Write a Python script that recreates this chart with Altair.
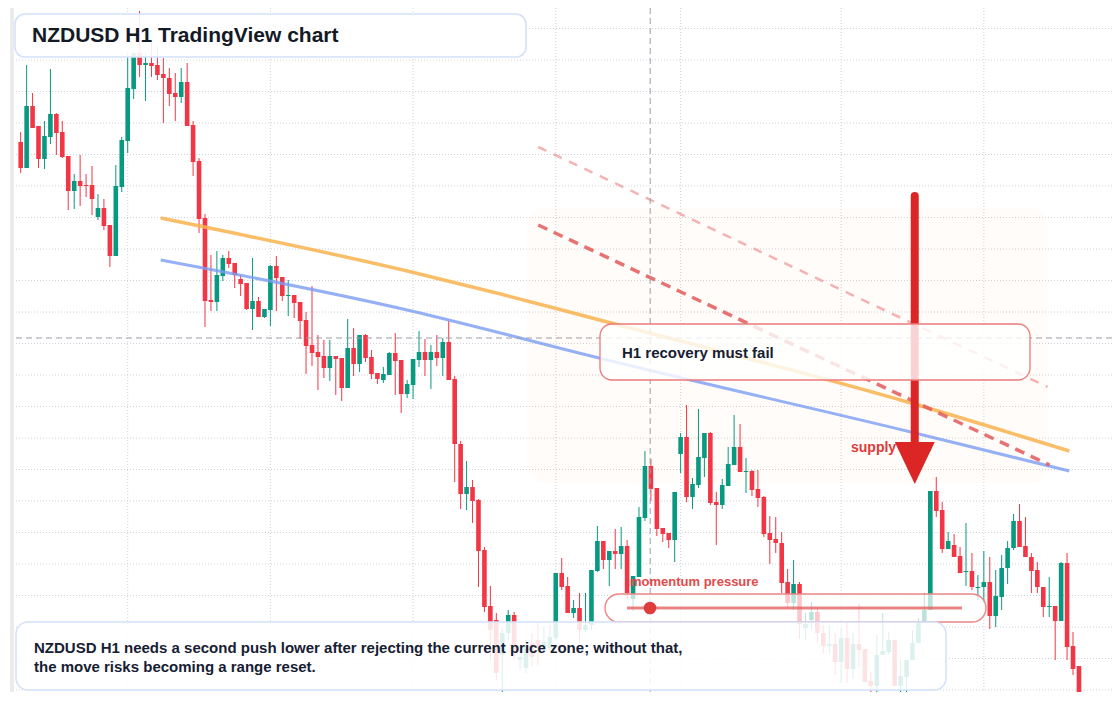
import altair as alt
import pandas as pd

FONT = "Liberation Sans"
GREEN = "#089981"
RED = "#f23645"

# ---- NZDUSD H1 candles, prices in points (1 point = 0.00001) ----
open_pts = [59716,59664,59788,59748,59682,59726,59772,59736,59688,59618,
            59638,59630,59630,59566,59584,59550,59488,59626,59718,59822,
            59894,59870,59874,59870,59852,59844,59814,59806,59836,59750,
            59678,59564,59400,59396,59448,59484,59474,59442,59434,59382,
            59398,59366,59380,59468,59446,59408,59410,59396,59360,59310,
            59296,59288,59264,59288,59284,59224,59304,59272,59330,59286,
            59254,59240,59250,59294,59280,59212,59230,59280,59296,59280,
            59296,59284,59316,59242,59112,59012,59026,59000,58900,58788,
            58760,58690,58734,58770,58680,58664,58714,58720,58704,58704,
            58724,58854,58828,58774,58784,58740,58750,58858,58918,58880,
            58898,58892,58908,58802,58846,58964,59068,59024,58944,58934,
            58920,59092,59126,59006,59030,59084,59134,58996,58990,59028,
            59070,59106,59056,59058,59022,59006,58934,58922,58914,58836,
            58794,58832,58744,58760,58776,58734,58708,58712,58676,58724,
            58662,58712,58702,58638,58628,58690,58696,58720,58628,58646,
            58680,58714,58756,58780,59018,58980,58902,58910,58888,58856,
            58858,58824,58826,58836,58768,58806,58864,58904,58958,58908,
            58886,58860,58826,58786,58788,58758,58874,58708,58668]
high_pts = [59736,59870,59814,59748,59758,59862,59774,59758,59688,59652,
            59690,59652,59668,59612,59602,59550,59670,59726,59894,59894,
            59978,59894,59914,59906,59884,59864,59854,59864,59874,59758,
            59684,59572,59490,59498,59490,59498,59474,59450,59434,59484,
            59406,59382,59470,59488,59446,59440,59410,59396,59376,59428,
            59330,59320,59320,59288,59284,59362,59344,59330,59332,59300,
            59254,59266,59296,59334,59280,59240,59282,59338,59322,59310,
            59330,59324,59358,59248,59118,59078,59040,59002,58906,58828,
            58774,58744,58780,58776,58700,58720,58734,58754,58746,58750,
            58854,58884,58846,58800,58814,58814,58860,58948,58918,58898,
            58942,58946,58920,58848,58986,59098,59082,59024,58944,58934,
            59016,59134,59190,59044,59182,59134,59136,59016,59042,59106,
            59170,59152,59084,59060,59060,59008,58968,58966,58936,58862,
            58880,58836,58774,58796,58784,58750,58750,58734,58744,58754,
            58734,58792,58702,58656,58730,58774,58736,58720,58680,58680,
            58740,58764,58814,59018,59046,58996,58936,58932,58906,58954,
            58894,58850,58898,58886,58860,58890,58918,58972,58992,58966,
            58894,58876,58826,58846,58788,58876,58894,58736,58668]
low_pts = [59654,59664,59744,59664,59662,59712,59690,59684,59580,59582,
           59588,59606,59570,59560,59540,59466,59488,59616,59694,59802,
           59846,59798,59846,59840,59754,59788,59758,59794,59748,59648,
           59534,59346,59378,59378,59438,59464,59424,59408,59380,59340,
           59366,59364,59348,59378,59398,59368,59364,59322,59252,59268,
           59220,59244,59238,59210,59198,59224,59248,59256,59276,59242,
           59232,59234,59250,59210,59174,59204,59202,59266,59248,59222,
           59268,59248,59240,59036,58982,58980,58954,58826,58776,58680,
           58640,58576,58720,58680,58660,58654,58666,58670,58696,58700,
           58720,58820,58774,58764,58714,58736,58740,58856,58862,58828,
           58862,58862,58802,58778,58846,58958,58998,58928,58916,58904,
           58876,59054,58996,58982,59024,59046,58990,58910,58982,59028,
           59070,59056,59014,59008,58986,58926,58872,58894,58814,58782,
           58780,58722,58720,58740,58714,58694,58694,58650,58634,58634,
           58642,58666,58636,58594,58606,58690,58690,58628,58610,58610,
           58680,58714,58756,58780,58966,58894,58902,58886,58854,58828,
           58820,58800,58794,58742,58746,58780,58832,58900,58906,58886,
           58814,58814,58766,58766,58680,58758,58680,58650,58560]
close_pts = [59664,59788,59744,59682,59728,59772,59734,59686,59618,59638,
             59628,59628,59602,59584,59548,59488,59628,59720,59824,59894,
             59870,59874,59868,59850,59844,59812,59806,59836,59748,59676,
             59562,59398,59396,59450,59484,59472,59450,59432,59382,59398,
             59366,59382,59468,59444,59408,59410,59394,59358,59308,59294,
             59286,59264,59288,59282,59224,59304,59272,59330,59284,59252,
             59242,59252,59294,59278,59212,59232,59282,59296,59280,59296,
             59284,59316,59240,59112,59012,59026,58998,58898,58786,58740,
             58654,58734,58770,58700,58686,58710,58686,58706,58716,58726,
             58854,58826,58774,58784,58740,58750,58860,58918,58880,58898,
             58892,58908,58814,58848,58966,59068,59022,58942,58932,58920,
             59016,59126,59006,59032,59086,59134,58994,58990,59030,59072,
             59106,59056,59058,59020,59004,58932,58920,58914,58834,58794,
             58832,58752,58752,58776,58734,58708,58712,58676,58724,58662,
             58712,58700,58636,58628,58690,58698,58720,58628,58648,58680,
             58714,58756,58780,59018,58978,58902,58918,58886,58854,58858,
             58826,58826,58836,58768,58808,58864,58904,58958,58906,58886,
             58858,58826,58786,58788,58758,58874,58706,58662,58570]

# grid levels (price) and time grid (bar index)
grid_price = [0.59943, 0.59880, 0.59817, 0.59754, 0.59691, 0.59628, 0.59565,
              0.59502, 0.59439, 0.59376, 0.59313, 0.59250, 0.59187, 0.59124,
              0.59061, 0.58998, 0.58935, 0.58872, 0.58809, 0.58746, 0.58683,
              0.58620]
grid_bar = [18, 42, 66, 90, 111, 138, 162]

# trend lines (bar index, price)
orange_bar = [23.55, 65.72, 80.72, 97.38, 149.72, 176.38]
orange_price = [0.59564, 0.59456, 0.59412, 0.59360, 0.59194, 0.59098]
blue_bar = [23.55, 65.72, 80.72, 91.88, 149.72, 176.38]
blue_price = [0.59480, 0.59378, 0.59334, 0.59300, 0.59136, 0.59058]
dash_thick_bar = [87.05, 173.05]
dash_thick_price = [0.59550, 0.59070]
dash_thin_bar = [87.05, 172.72]
dash_thin_price = [0.59706, 0.59226]

zone_bar = [85.2, 172.7]
zone_price = [0.59584, 0.59034]
cross_bar = 105.88
cross_price = 0.59324
arrow_bar = 150.38
arrow_price = [0.59608, 0.59100]
arrow_head_price = 0.59074

title_text = "NZDUSD H1 TradingView chart"
note_lines = ["NZDUSD H1 needs a second push lower after rejecting the current price zone; without that,",
              "the move risks becoming a range reset."]
box_text = "H1 recovery must fail"
zone_text = "supply zone"
momentum_text = "momentum pressure"

df = pd.DataFrame({
    "i": list(range(len(open_pts))),
    "open": [v / 1e5 for v in open_pts],
    "high": [v / 1e5 for v in high_pts],
    "low": [v / 1e5 for v in low_pts],
    "close": [v / 1e5 for v in close_pts],
})

xs = alt.Scale(domain=[-0.2833, 182.7167], nice=False, zero=False)
ys = alt.Scale(domain=[0.58616, 0.59984], nice=False, zero=False)


def X(f):
    return alt.X(f, type="quantitative", scale=xs, axis=None)


def Y(f):
    return alt.Y(f, type="quantitative", scale=ys, axis=None)


one = pd.DataFrame({"k": [0]})
candle_color = alt.condition("datum.close >= datum.open", alt.value(GREEN), alt.value(RED))

grid_h = alt.Chart(pd.DataFrame({"p": grid_price})).mark_rule(
    color="#cdd2da", strokeWidth=1, strokeDash=[1, 2]).encode(y=Y("p"))
grid_v = alt.Chart(pd.DataFrame({"b": grid_bar})).mark_rule(
    color="#cdd2da", strokeWidth=1, strokeDash=[1, 2]).encode(x=X("b"))

zone = alt.Chart(pd.DataFrame({"b1": [zone_bar[0]], "b2": [zone_bar[1]],
                               "p1": [zone_price[0]], "p2": [zone_price[1]]})).mark_rect(
    cornerRadius=18, color="#f4a261", opacity=0.035).encode(
    x=X("b1"), x2="b2", y=Y("p1"), y2="p2")

wicks = alt.Chart(df).mark_rule(strokeWidth=1, clip=True).encode(
    x=X("i"), y=Y("low"), y2="high", color=candle_color)
bodies = alt.Chart(df).mark_bar(width=4.6, clip=True).encode(
    x=X("i"), y=Y("open"), y2="close", color=candle_color)


def line(bars, prices, **kw):
    d = pd.DataFrame({"b": bars, "p": prices})
    return alt.Chart(d).mark_line(**kw).encode(x=X("b"), y=Y("p"))


orange = line(orange_bar, orange_price, color="#f9b24e", strokeWidth=3.5, opacity=0.85,
              interpolate="monotone")
blue = line(blue_bar, blue_price, color="#7a9cf2", strokeWidth=3, opacity=0.8,
            interpolate="monotone")
dash_thick = line(dash_thick_bar, dash_thick_price, color="#e25b5b", strokeWidth=3.5,
                  opacity=0.85, strokeDash=[10, 7])
dash_thin = line(dash_thin_bar, dash_thin_price, color="#ee8c8c", strokeWidth=2.5,
                 opacity=0.65, strokeDash=[9, 8])

cross_v = alt.Chart(pd.DataFrame({"b": [cross_bar]})).mark_rule(
    color="#9a9da5", strokeWidth=1, strokeDash=[6, 4]).encode(x=X("b"))
cross_h = alt.Chart(pd.DataFrame({"p": [cross_price]})).mark_rule(
    color="#9a9da5", strokeWidth=1, strokeDash=[6, 4]).encode(y=Y("p"))

zone_label = alt.Chart(one).mark_text(
    text=zone_text, align="left", baseline="middle", font=FONT, fontSize=14,
    fontWeight="bold", color="#e03a3a").encode(x=alt.value(837), y=alt.value(440))

shaft = alt.Chart(pd.DataFrame({"b": [arrow_bar], "p1": [arrow_price[0]], "p2": [arrow_price[1]]})).mark_rule(
    color="#dc2626", strokeWidth=8, strokeCap="round").encode(x=X("b"), y=Y("p1"), y2="p2")
head = alt.Chart(pd.DataFrame({"b": [arrow_bar], "p": [arrow_head_price]})).mark_point(
    shape="M-1,-1.05L1,-1.05L0,1.05Z", size=1600, filled=True, color="#dc2626",
    opacity=1, strokeWidth=0).encode(x=X("b"), y=Y("p"))

h1_box = alt.Chart(one).mark_rect(
    cornerRadius=12, fill="white", fillOpacity=0.8, stroke="#ec7b7b", strokeWidth=1.3).encode(
    x=alt.value(586), x2=alt.value(1016), y=alt.value(316), y2=alt.value(372))
h1_text = alt.Chart(one).mark_text(
    text=box_text, align="left", baseline="middle", font=FONT, fontSize=15,
    fontWeight="bold", color="#162032").encode(x=alt.value(608), y=alt.value(345))

pill = alt.Chart(one).mark_rect(
    cornerRadius=14, fill="white", fillOpacity=0.72, stroke="#ec8585", strokeWidth=1.4).encode(
    x=alt.value(591), x2=alt.value(972), y=alt.value(586), y2=alt.value(614))
pill_line = alt.Chart(one).mark_rule(color="#e15a5a", strokeWidth=3, opacity=0.75).encode(
    x=alt.value(613), x2=alt.value(948), y=alt.value(600))
pill_dot = alt.Chart(one).mark_circle(size=160, color="#e03c3c", opacity=1).encode(
    x=alt.value(636), y=alt.value(600))
pill_label = alt.Chart(one).mark_text(
    text=momentum_text, align="left", baseline="middle", font=FONT, fontSize=13,
    fontWeight="bold", color="#e14a4a").encode(x=alt.value(616), y=alt.value(574))

note_box = alt.Chart(one).mark_rect(
    cornerRadius=12, fill="white", fillOpacity=0.86, stroke="#d3e1fa", strokeWidth=1.5).encode(
    x=alt.value(2), x2=alt.value(932), y=alt.value(614), y2=alt.value(682))
note1 = alt.Chart(one).mark_text(
    text=note_lines[0], align="left", baseline="middle", font=FONT, fontSize=15,
    fontWeight="bold", color="#162032").encode(x=alt.value(20), y=alt.value(640))
note2 = alt.Chart(one).mark_text(
    text=note_lines[1], align="left", baseline="middle", font=FONT, fontSize=15,
    fontWeight="bold", color="#162032").encode(x=alt.value(20), y=alt.value(659))

title_box = alt.Chart(one).mark_rect(
    cornerRadius=10, fill="white", fillOpacity=0.9, stroke="#d3e1fa", strokeWidth=1.6).encode(
    x=alt.value(1), x2=alt.value(512), y=alt.value(6), y2=alt.value(49))
title = alt.Chart(one).mark_text(
    text=title_text, align="left", baseline="middle", font=FONT, fontSize=21,
    fontWeight="bold", color="#131a26").encode(x=alt.value(18), y=alt.value(28))

strip = alt.Chart(one).mark_rect(color="#ebebeb").encode(
    x=alt.value(-4), x2=alt.value(0), y=alt.value(0), y2=alt.value(684))

chart = alt.layer(
    grid_h, grid_v, zone, wicks, bodies, orange, blue, dash_thin, dash_thick,
    cross_v, cross_h, zone_label, shaft, head, h1_box, h1_text,
    pill, pill_line, pill_dot, pill_label, note_box, note1, note2,
    title_box, title, strip
).properties(
    width=1098, height=684,
    autosize=alt.AutoSizeParams(type="none"),
    padding={"left": 6, "top": 0, "right": 0, "bottom": 0},
    background="white",
).configure_view(stroke=None)

chart.save("out.html", embed_options={"renderer": "svg", "actions": False})
